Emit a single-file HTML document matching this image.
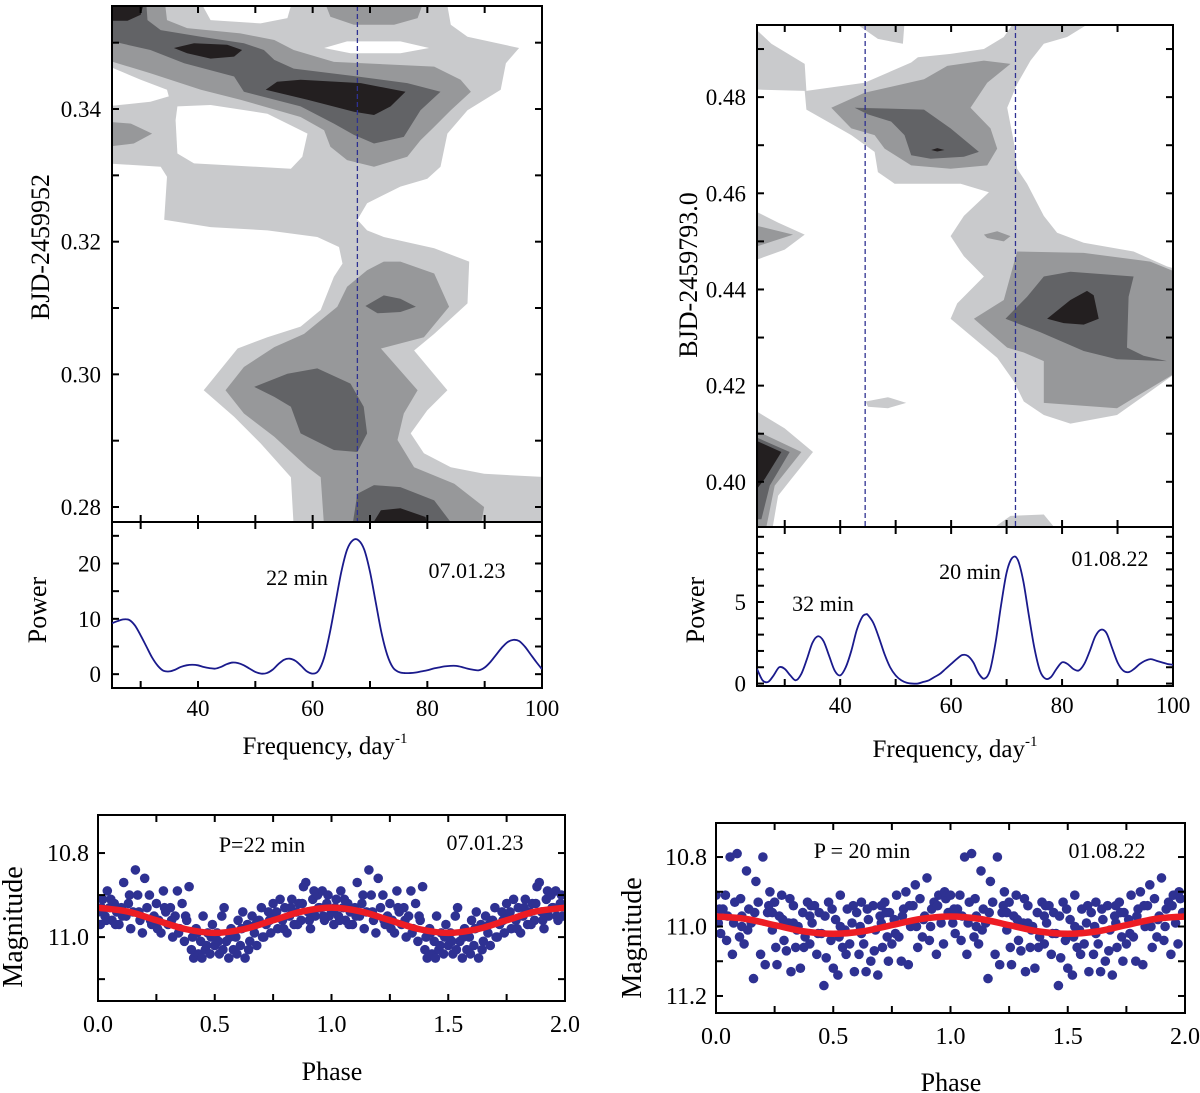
<!DOCTYPE html>
<html><head><meta charset="utf-8"><title>Periodograms and phase curves</title>
<style>
html,body{margin:0;padding:0;background:#fff;}
svg{display:block;font-family:"Liberation Serif","DejaVu Serif",serif;}
</style></head>
<body>
<svg id="fig" xmlns="http://www.w3.org/2000/svg" width="1200" height="1093" viewBox="0 0 1200 1093"></svg>
<script>
// ---------- DATA ----------
const specFreqA = [25,26,27,28,29,30,31,32,33,34,35,36,37,38,39,40,41,42,43,44,45,46,47,48,49,50,51,52,53,54,55,56,57,58,59,60,61,62,63,64,65,66,67,68,69,70,71,72,73,74,75,76,77,78,79,80,81,82,83,84,85,86,87,88,89,90,91,92,93,94,95,96,97,98,99,100];
const specPowA = [9.2,9.6,9.9,9.8,8.8,7,5,3,1.5,0.6,0.5,0.8,1.3,1.6,1.7,1.6,1.3,1.1,1.0,1.3,1.8,2.1,2.0,1.6,1.0,0.4,0.1,0.2,0.8,1.8,2.6,2.8,2.4,1.5,0.5,0.1,0.6,3,7.5,13,18.5,22.5,24.2,24.2,22.5,18.5,13,7.5,3.5,1.2,0.4,0.2,0.2,0.3,0.5,0.7,1.0,1.2,1.4,1.5,1.5,1.3,1.0,0.8,0.7,1.2,2.2,3.5,4.8,5.8,6.2,6.0,5.0,3.6,2.2,0.9];
const specFreqB = [25,26,27,28,29,30,31,32,33,34,35,36,37,38,39,40,41,42,43,44,44.7,45,46,47,48,49,50,51,52,53,54,55,56,57,58,59,60,61,62,63,64,65,66,67,68,69,70,71,72,73,74,75,76,77,78,79,80,81,82,83,84,85,86,87,88,89,90,91,92,93,94,95,96,97,98,99,100];
const specPowB = [0.9,0.2,0.1,0.5,1.0,0.9,0.5,0.2,0.6,1.5,2.5,2.9,2.6,1.7,0.8,0.5,1.0,2.0,3.3,4.1,4.25,4.2,3.7,2.8,1.8,1.0,0.5,0.2,0.05,0,0,0.1,0.2,0.4,0.6,0.9,1.2,1.5,1.75,1.7,1.3,0.6,0.3,0.8,2.5,4.8,6.8,7.7,7.6,6.3,4.2,2.2,0.8,0.3,0.4,0.9,1.3,1.2,0.9,0.8,1.2,2.0,2.9,3.3,3.1,2.2,1.3,0.8,0.7,0.9,1.2,1.4,1.5,1.4,1.3,1.2,1.15];
const markFreqA = [67.8];
const markFreqB = [44.5, 71.6];

const cA_L1 = [[[24,0.357],[83.2,0.357],[84.1,0.3527],[87.0,0.3509],[96.0,0.3492],[93.7,0.3469],[92.8,0.3429],[87.0,0.3398],[83.5,0.3363],[82.3,0.3313],[80.0,0.3295],[75.3,0.3283],[69.5,0.3258],[67.8,0.3233],[69.5,0.3217],[72.4,0.3207],[81.2,0.3190],[87.3,0.3170],[87.0,0.3107],[81.2,0.3061],[77.7,0.3036],[83.5,0.2976],[80.0,0.2946],[77.1,0.2911],[79.4,0.2881],[84.1,0.2860],[89.9,0.2850],[101,0.2845],[101,0.277],[56.7,0.277],[56.2,0.2845],[50.9,0.2896],[46.3,0.2936],[41.0,0.2976],[46.9,0.3039],[52.1,0.3056],[57.9,0.3072],[61.4,0.3097],[63.7,0.3147],[65.2,0.3167],[64.6,0.3192],[60.8,0.3207],[52.1,0.3217],[42.2,0.3222],[34.1,0.3233],[34.6,0.3298],[33.5,0.3313],[24,0.3318]]];
const cA_holes = [
 [[24,0.3466],[30,0.3444],[34.6,0.3429],[34.9,0.3419],[31.7,0.3411],[24,0.3404]],
 [[36.4,0.3404],[42.2,0.3406],[52.1,0.3393],[59.1,0.3363],[58.2,0.3328],[56.2,0.3310],[39.3,0.3318],[36.4,0.3333],[36.1,0.3383]],
 [[39.9,0.357],[56.7,0.357],[55.6,0.3537],[50.9,0.3529],[42.2,0.3534]],
 [[62.0,0.3492],[66.0,0.3502],[75.3,0.3502],[80.3,0.3492],[75.3,0.3484],[66.6,0.3484]]];
const cA_L2 = [
 [[24,0.357],[34.1,0.357],[34.6,0.3534],[38.1,0.3522],[47.4,0.3514],[53.3,0.3504],[56.7,0.3489],[63.7,0.3471],[81.2,0.3464],[85.8,0.3444],[87.6,0.3426],[84.1,0.3398],[81.2,0.3373],[78.8,0.3353],[76.5,0.3328],[70.7,0.3313],[66.0,0.3323],[63.1,0.3343],[62.0,0.3368],[57.9,0.3388],[47.4,0.3414],[40.5,0.3429],[31.7,0.3454],[24,0.3474]],
 [[61.7,0.357],[79.7,0.357],[78.3,0.3537],[74.2,0.3527],[67.2,0.3527],[63.1,0.3539]],
 [[24,0.3381],[28.3,0.3378],[32.0,0.3363],[28.8,0.3348],[24,0.3343]],
 [[72.4,0.3170],[69.5,0.3157],[66.0,0.3132],[64.3,0.3102],[58.5,0.3061],[53.3,0.3041],[48.0,0.3011],[44.8,0.2976],[48.0,0.2941],[53.3,0.2906],[59.1,0.2860],[61.4,0.2845],[62.0,0.277],[89.3,0.277],[89.9,0.2800],[84.7,0.2835],[77.7,0.2860],[74.8,0.2901],[75.9,0.2941],[78.3,0.2976],[71.9,0.3039],[79.4,0.3056],[83.8,0.3102],[81.2,0.3152],[75.3,0.3170]]];
const cA_L3 = [
 [[24,0.357],[30.9,0.357],[31.2,0.3534],[33.5,0.3519],[40.5,0.3509],[48.0,0.3499],[51.5,0.3489],[53.3,0.3474],[56.7,0.3461],[67.8,0.3449],[76.5,0.3439],[82.3,0.3426],[78.8,0.3398],[75.9,0.3358],[70.7,0.3348],[67.2,0.3361],[63.7,0.3378],[57.9,0.3404],[48.0,0.3426],[46.3,0.3449],[37.6,0.3469],[31.7,0.3489],[24,0.3504]],
 [[49.8,0.2981],[55.6,0.3001],[60.8,0.3009],[66.6,0.2986],[68.9,0.2951],[69.5,0.2911],[67.8,0.2883],[63.7,0.2886],[57.9,0.2911],[56.2,0.2951],[53.3,0.2966]],
 [[69.2,0.3103],[72.4,0.3119],[75.3,0.3114],[78.0,0.3102],[75.3,0.3094],[71.3,0.3092]],
 [[67.8,0.2820],[70.7,0.2833],[75.3,0.2830],[81.2,0.2810],[84.7,0.277],[66.9,0.277]]];
const cA_L4 = [
 [[24,0.357],[30.9,0.357],[30,0.3542],[27.7,0.3533],[24,0.3533]],
 [[35.8,0.3492],[39.3,0.3499],[45.1,0.3497],[47.7,0.3489],[46.3,0.3479],[42.2,0.3476],[38.1,0.3484]],
 [[51.8,0.3429],[53.8,0.3441],[57.9,0.3444],[68.4,0.3439],[76.2,0.3426],[73.6,0.3404],[70.7,0.3391],[67.2,0.3396],[59.1,0.3414]],
 [[70.1,0.277],[71.9,0.2795],[75.3,0.2798],[79.7,0.2785],[80.0,0.277]]];

const cB_L1 = [
 [[24,0.4950],[27.6,0.4911],[33.6,0.4869],[33.9,0.4813],[44.4,0.4830],[52.8,0.4872],[54.0,0.4883],[59.9,0.4890],[65.9,0.4900],[69.5,0.4925],[71.3,0.4955],[85.1,0.4955],[80.9,0.4925],[76.7,0.4911],[74.3,0.4876],[71.9,0.4827],[70.1,0.4778],[71.3,0.4707],[71.9,0.4651],[73.7,0.4620],[76.7,0.4553],[79.1,0.4518],[83.9,0.4497],[92.9,0.4479],[98.9,0.4448],[101,0.4441],[101,0.4230],[95.9,0.4188],[89.9,0.4139],[81.5,0.4121],[76.7,0.4139],[73.1,0.4167],[71.3,0.4209],[68.3,0.4258],[59.9,0.4339],[61.1,0.4371],[65.9,0.4427],[62.3,0.4469],[59.9,0.4511],[62.3,0.4553],[66.8,0.4602],[61.7,0.4620],[49.8,0.4620],[46.8,0.4644],[46.2,0.4686],[42.0,0.4721],[33.9,0.4774],[33.6,0.4813],[24,0.4816]],
 [[42.6,0.4955],[51.6,0.4955],[51.3,0.4911],[46.8,0.4921]],
 [[24,0.4567],[28.8,0.4539],[33.6,0.4514],[30,0.4483],[24,0.4458]],
 [[24,0.4153],[30,0.4111],[35.1,0.4062],[31.2,0.4006],[28.8,0.3971],[27.6,0.389],[24,0.389]],
 [[44.6,0.4167],[48.6,0.4176],[51.9,0.4164],[48.6,0.4153],[45.0,0.4156]],
 [[65.9,0.389],[70.7,0.3929],[76.7,0.3932],[79.7,0.389]]];
const cB_L2 = [
 [[38.4,0.4778],[44.4,0.4809],[55.1,0.4837],[59.3,0.4865],[65.9,0.4876],[70.7,0.4869],[66.5,0.4830],[63.5,0.4778],[67.1,0.4735],[68.3,0.4693],[66.5,0.4658],[59.9,0.4651],[52.8,0.4658],[48.0,0.4693],[46.2,0.4721],[42.0,0.4735]],
 [[64.1,0.4339],[69.5,0.4378],[71.9,0.4479],[83.9,0.4476],[95.9,0.4458],[101,0.4434],[101,0.4230],[92.9,0.4174],[89.9,0.4153],[76.7,0.4164],[76.7,0.4251],[73.1,0.4269],[70.1,0.4279]],
 [[65.9,0.4514],[68.3,0.4521],[70.7,0.4511],[69.5,0.4500],[66.5,0.4507]],
 [[24,0.4535],[31.5,0.4514],[24,0.4486]],
 [[24,0.4111],[33,0.4062],[28.2,0.3992],[26.4,0.389],[24,0.389]]];
const cB_L3 = [
 [[42.6,0.4778],[55.1,0.4774],[59.9,0.4735],[65.0,0.4686],[62.3,0.4676],[56.3,0.4672],[52.8,0.4679],[51.6,0.4721],[49.2,0.4749],[45.0,0.4764]],
 [[69.8,0.4339],[73.7,0.4385],[76.7,0.4427],[81.5,0.4437],[92.9,0.4427],[92.0,0.4385],[91.7,0.4279],[94.7,0.4262],[98.9,0.4251],[89.9,0.4255],[83.9,0.4272],[76.1,0.4311]],
 [[24,0.4097],[30.9,0.4062],[27.3,0.3992],[25.8,0.3922],[24,0.3922]]];
const cB_L4 = [
 [[77.3,0.4339],[81.5,0.4378],[84.5,0.4397],[85.7,0.4388],[86.6,0.4339],[83.9,0.4327],[80.3,0.4330]],
 [[56.4,0.4690],[57.5,0.4694],[58.8,0.4690],[57.5,0.4687]],
 [[24,0.4090],[29.4,0.4062],[26.4,0.4006],[24,0.3971]]];

const phaseA = [0.00,0.01,0.02,0.03,0.04,0.05,0.06,0.07,0.08,0.09,0.10,0.11,0.12,0.13,0.14,0.15,0.16,0.17,0.18,0.19,0.20,0.21,0.22,0.23,0.24,0.25,0.26,0.27,0.28,0.29,0.30,0.31,0.32,0.33,0.34,0.35,0.36,0.37,0.38,0.39,0.40,0.41,0.42,0.43,0.44,0.45,0.46,0.47,0.48,0.49,0.50,0.51,0.52,0.53,0.54,0.55,0.56,0.57,0.58,0.59,0.60,0.61,0.62,0.63,0.64,0.65,0.66,0.67,0.68,0.69,0.70,0.71,0.72,0.73,0.74,0.75,0.76,0.77,0.78,0.79,0.80,0.81,0.82,0.83,0.84,0.85,0.86,0.87,0.88,0.89,0.90,0.91,0.92,0.93,0.94,0.95,0.96,0.97,0.98,0.99,
 0.015,0.035,0.055,0.075,0.105,0.135,0.175,0.225,0.255,0.285,0.315,0.345,0.375,0.405,0.425,0.445,0.465,0.485,0.515,0.535,0.565,0.595,0.615,0.645,0.675,0.705,0.735,0.765,0.795,0.825,0.855,0.875,0.905,0.925,0.945,0.965,0.985];
const magA = [10.94,10.97,10.91,10.95,10.89,10.93,10.96,10.92,10.94,10.97,10.93,10.87,10.95,10.92,10.98,10.94,10.84,10.90,10.96,10.99,10.86,10.93,10.90,10.97,10.95,10.92,10.96,10.99,10.89,10.94,10.97,10.93,11.00,10.95,10.89,10.98,10.92,11.01,10.96,10.88,11.03,11.05,10.98,11.04,11.01,10.95,11.03,10.99,11.04,10.97,11.02,10.99,11.04,10.95,10.93,11.01,11.05,10.98,11.03,11.00,10.96,11.02,10.94,11.05,10.97,11.01,10.95,10.99,11.02,10.96,10.93,11.00,10.97,10.94,10.99,10.92,10.95,10.98,10.91,10.96,10.93,10.99,10.95,10.91,10.97,10.94,10.92,10.96,10.88,10.87,10.94,10.98,10.91,10.95,10.90,10.93,10.89,10.96,10.92,10.95,
 10.93,10.96,10.91,10.97,10.95,10.90,10.94,10.96,10.98,10.93,10.96,10.99,10.95,11.00,10.99,11.05,11.02,11.00,11.01,11.03,11.00,11.04,10.98,11.03,10.97,11.00,10.96,10.94,10.98,10.93,10.97,10.92,10.96,10.89,10.93,10.95,10.90];
const phaseB = [0.00,0.01,0.02,0.03,0.04,0.05,0.06,0.07,0.08,0.09,0.10,0.11,0.12,0.13,0.14,0.15,0.16,0.17,0.18,0.19,0.20,0.21,0.22,0.23,0.24,0.25,0.26,0.27,0.28,0.29,0.30,0.31,0.32,0.33,0.34,0.35,0.36,0.37,0.38,0.39,0.40,0.41,0.42,0.43,0.44,0.45,0.46,0.47,0.48,0.49,0.50,0.51,0.52,0.53,0.54,0.55,0.56,0.57,0.58,0.59,0.60,0.61,0.62,0.63,0.64,0.65,0.66,0.67,0.68,0.69,0.70,0.71,0.72,0.73,0.74,0.75,0.76,0.77,0.78,0.79,0.80,0.81,0.82,0.83,0.84,0.85,0.86,0.87,0.88,0.89,0.90,0.91,0.92,0.93,0.94,0.95,0.96,0.97,0.98,0.99,
 0.015,0.045,0.075,0.105,0.135,0.165,0.225,0.255,0.285,0.315,0.345,0.375,0.405,0.435,0.465,0.495,0.525,0.555,0.585,0.615,0.645,0.675,0.705,0.735,0.765,0.795,0.825,0.855,0.885,0.915,0.945,0.975,0.705,0.725,0.62,0.53,0.40,0.33,0.24,0.11];
const magB = [10.91,10.99,11.02,10.95,10.91,10.97,10.80,11.08,10.93,10.79,11.03,10.97,11.05,10.84,10.95,10.99,11.15,10.87,10.93,11.08,10.80,11.11,10.96,10.90,11.01,10.93,11.11,10.97,10.91,11.04,11.07,10.99,11.13,10.94,11.06,11.00,11.12,10.96,11.03,10.93,11.05,10.99,10.94,11.08,10.96,11.02,11.17,11.09,10.93,11.04,11.12,10.98,11.14,10.91,11.06,11.01,10.95,11.05,10.99,11.13,10.96,11.08,10.93,11.05,11.13,10.98,11.10,10.94,11.01,11.14,10.97,11.06,10.93,11.03,10.96,11.05,10.98,10.91,11.03,11.10,10.95,10.90,11.11,11.00,10.94,10.88,11.06,10.92,11.03,10.97,10.86,11.04,10.95,10.93,11.08,10.91,10.99,11.05,10.92,10.96,
 10.95,11.04,10.99,10.92,11.01,10.96,10.94,11.06,10.98,10.92,11.01,11.06,10.94,11.02,10.97,10.95,11.03,11.08,10.94,11.00,10.95,11.07,10.94,11.10,11.02,10.97,10.94,11.00,10.98,11.00,10.94,10.90,10.99,10.96,11.02,11.00,10.97,10.99,10.96,11.00];
const fitPhase = [0,0.125,0.25,0.375,0.5,0.625,0.75,0.875,1,1.125,1.25,1.375,1.5,1.625,1.75,1.875,2];
const fitMagA = [10.93,10.939,10.96,10.981,10.99,10.981,10.96,10.939,10.93,10.939,10.96,10.981,10.99,10.981,10.96,10.939,10.93];
const fitMagB = [10.971,10.978,10.996,11.014,11.021,11.014,10.996,10.978,10.971,10.978,10.996,11.014,11.021,11.014,10.996,10.978,10.971];

const freqTickLabels = [40,60,80,100];
const bjdTicksA = [0.28,0.30,0.32,0.34];
const bjdTicksB = [0.40,0.42,0.44,0.46,0.48];
const powTicksA = [0,10,20];
const powTicksB = [0,5];
const phaseTicks = [0.0,0.5,1.0,1.5,2.0];
const magTicksA = [10.8,11.0];
const magTicksB = [10.8,11.0,11.2];

// ---------- HELPERS ----------
const NS = 'http://www.w3.org/2000/svg';
const svg = document.getElementById('fig');
function mk(tag, attrs, parent){
  const e = document.createElementNS(NS, tag);
  for (const k in attrs) e.setAttribute(k, attrs[k]);
  (parent || svg).appendChild(e);
  return e;
}
function lin(d0,d1,r0,r1){ return v => r0 + (v-d0)/(d1-d0)*(r1-r0); }
function smoothPath(pts){
  let d = 'M' + pts[0][0].toFixed(2) + ',' + pts[0][1].toFixed(2);
  for (let i=0;i<pts.length-1;i++){
    const p0 = pts[Math.max(0,i-1)], p1 = pts[i], p2 = pts[i+1], p3 = pts[Math.min(pts.length-1,i+2)];
    const c1x = p1[0]+(p2[0]-p0[0])/6, c1y = p1[1]+(p2[1]-p0[1])/6;
    const c2x = p2[0]-(p3[0]-p1[0])/6, c2y = p2[1]-(p3[1]-p1[1])/6;
    d += ' C'+c1x.toFixed(2)+','+c1y.toFixed(2)+' '+c2x.toFixed(2)+','+c2y.toFixed(2)+' '+p2[0].toFixed(2)+','+p2[1].toFixed(2);
  }
  return d;
}
function text(str, x, y, size, anchor, parent, rot){
  const t = mk('text', {x:x, y:y, 'font-size':size, 'text-anchor':anchor||'middle', fill:'#000'}, parent);
  if (rot) t.setAttribute('transform', 'rotate(-90 '+x+' '+y+')');
  t.textContent = str;
  return t;
}
function clip(id, x, y, w, h){
  const cp = mk('clipPath', {id:id});
  mk('rect', {x:x, y:y, width:w, height:h}, cp);
}
function drawTicks(g, x0, x1, y0, y1, xVals, xf, yVals, yf, len, sides){
  xVals.forEach(v => {
    const x = xf(v);
    if (sides.bottom){ const t = mk('line',{x1:x,y1:y1,x2:x,y2:y1-len,stroke:'#000','stroke-width':2},g);   }
    if (sides.top){ const t = mk('line',{x1:x,y1:y0,x2:x,y2:y0+len,stroke:'#000','stroke-width':2},g);   }
  });
  yVals.forEach(v => {
    const y = yf(v);
    const a = mk('line',{x1:x0,y1:y,x2:x0+len,y2:y,stroke:'#000','stroke-width':2},g);
    
    
    const b = mk('line',{x1:x1,y1:y,x2:x1-len,y2:y,stroke:'#000','stroke-width':2},g);
    
    
  });
}
function range(a,b,s){ const r=[]; for(let v=a; v<=b+1e-9; v+=s) r.push(+v.toFixed(4)); return r; }
const colors = ['#c9cacc','#97989a','#626366','#231f20'];

function drawContours(name, layers, holes, fx, fy, clipId){
  const g = mk('g', {'clip-path':'url(#'+clipId+')'});
  
  
  const order = [[layers[0],colors[0],'contour-level-1'],[holes,'#ffffff','contour-gap'],[layers[1],colors[1],'contour-level-2'],[layers[2],colors[2],'contour-level-3'],[layers[3],colors[3],'contour-level-4']];
  order.forEach(([polys,col,nm]) => {
    polys.forEach(poly => {
      const d = 'M' + poly.map(p => fx(p[0]).toFixed(1)+','+fy(p[1]).toFixed(1)).join(' L') + 'Z';
      const p = mk('path', {d:d, fill:col, stroke:'none'}, g);
      
      
    });
  });
  return g;
}

// ---------- PANEL A ----------
const AX0=112, AX1=542, AY0=6, AY1=522, AP1=688;
const fxA = lin(25,100,AX0,AX1);
const tyA = lin(0.35553,0.27774,AY0,AY1);
const pyA = lin(27.5,-2.5,AY1,AP1);
clip('clipA', AX0, AY0, AX1-AX0, AY1-AY0);
clip('clipAP', AX0, AY1, AX1-AX0, AP1-AY1);
drawContours('contour-map-07-01-23', [cA_L1,cA_L2,cA_L3,cA_L4], cA_holes, fxA, tyA, 'clipA');
markFreqA.forEach(f => {
  const l = mk('line',{x1:fxA(f),y1:AY0,x2:fxA(f),y2:AY1,stroke:'#2e3192','stroke-width':1.3,'stroke-dasharray':'5,3'});
  
  
});
{
  const gA = mk('g',{});
  
  
  const r1 = mk('rect',{x:AX0,y:AY0,width:AX1-AX0,height:AY1-AY0,fill:'none',stroke:'#000','stroke-width':2},gA);
  
  
  const r2 = mk('rect',{x:AX0,y:AY1,width:AX1-AX0,height:AP1-AY1,fill:'none',stroke:'#000','stroke-width':2},gA);
  
  
  const fTicks = range(30,100,10);
  drawTicks(gA, AX0, AX1, AY0, AY1, fTicks, fxA, range(0.28,0.35,0.01), tyA, 7, {top:true,bottom:true});
  drawTicks(gA, AX0, AX1, AY1, AP1, fTicks, fxA, range(0,25,5), pyA, 7, {top:true,bottom:true});
  bjdTicksA.forEach(v => { const t = text(v.toFixed(2), AX0-11, tyA(v)+8, 23, 'end', gA);   });
  powTicksA.forEach(v => { const t = text(String(v), AX0-11, pyA(v)+8, 23, 'end', gA);   });
  freqTickLabels.forEach(v => { const t = text(String(v), fxA(v), AP1+28, 23, 'middle', gA);   });
  const yt = text('BJD-2459952', 49, 247, 26, 'middle', gA, true);
  
  
  const pt = text('Power', 46, 610, 26, 'middle', gA, true);
  
  
  const xt = mk('text',{x:325,y:754,'font-size':25,'text-anchor':'middle'},gA);
  
  
  xt.innerHTML = 'Frequency, day<tspan dy="-11" font-size="15">-1</tspan>';
  const a1 = text('22 min', 297, 585, 22, 'middle', gA);
  
  
  const a2 = text('07.01.23', 467, 578, 22, 'middle', gA);
  
  
}
{
  const pts = specFreqA.map((f,i) => [fxA(f), pyA(specPowA[i])]);
  const p = mk('path',{d:smoothPath(pts),fill:'none',stroke:'#1a1a8c','stroke-width':1.8,'clip-path':'url(#clipAP)'});
  
  
}

// ---------- PANEL B ----------
const BX0=757, BX1=1173, BY0=25, BY1=527, BP1=686;
const fxB = lin(25,100,BX0,BX1);
const tyB = lin(0.4950,0.3906,BY0,BY1);
const pyB = lin(9.6,-0.15,BY1,BP1);
clip('clipB', BX0, BY0, BX1-BX0, BY1-BY0);
clip('clipBP', BX0, BY1, BX1-BX0, BP1-BY1);
drawContours('contour-map-01-08-22', [cB_L1,cB_L2,cB_L3,cB_L4], [], fxB, tyB, 'clipB');
markFreqB.forEach(f => {
  const l = mk('line',{x1:fxB(f),y1:BY0,x2:fxB(f),y2:BY1,stroke:'#2e3192','stroke-width':1.3,'stroke-dasharray':'5,3'});
  
  
});
{
  const gB = mk('g',{});
  
  
  const r1 = mk('rect',{x:BX0,y:BY0,width:BX1-BX0,height:BY1-BY0,fill:'none',stroke:'#000','stroke-width':2},gB);
  
  
  const r2 = mk('rect',{x:BX0,y:BY1,width:BX1-BX0,height:BP1-BY1,fill:'none',stroke:'#000','stroke-width':2},gB);
  
  
  const fTicks = range(30,100,10);
  drawTicks(gB, BX0, BX1, BY0, BY1, fTicks, fxB, range(0.40,0.49,0.01), tyB, 7, {top:true,bottom:true});
  drawTicks(gB, BX0, BX1, BY1, BP1, fTicks, fxB, range(0,9,1), pyB, 7, {top:true,bottom:true});
  bjdTicksB.forEach(v => { const t = text(v.toFixed(2), BX0-11, tyB(v)+8, 23, 'end', gB);   });
  powTicksB.forEach(v => { const t = text(String(v), BX0-11, pyB(v)+8, 23, 'end', gB);   });
  freqTickLabels.forEach(v => { const t = text(String(v), fxB(v), BP1+27, 23, 'middle', gB);   });
  const yt = text('BJD-2459793.0', 697, 275, 26, 'middle', gB, true);
  
  
  const pt = text('Power', 704, 610, 26, 'middle', gB, true);
  
  
  const xt = mk('text',{x:955,y:757,'font-size':25,'text-anchor':'middle'},gB);
  
  
  xt.innerHTML = 'Frequency, day<tspan dy="-11" font-size="15">-1</tspan>';
  const a1 = text('32 min', 823, 611, 22, 'middle', gB);
  
  
  const a2 = text('20 min', 970, 579, 22, 'middle', gB);
  
  
  const a3 = text('01.08.22', 1110, 566, 22, 'middle', gB);
  
  
}
{
  const pts = specFreqB.map((f,i) => [fxB(f), pyB(specPowB[i])]);
  const p = mk('path',{d:smoothPath(pts),fill:'none',stroke:'#1a1a8c','stroke-width':1.8,'clip-path':'url(#clipBP)'});
  
  
}

// ---------- LIGHT CURVES ----------
function lightCurve(id, X0, X1, Y0, Y1, m0, m1, phases, mags, fitMag, magTicks, minorMags, labels){
  const fx = lin(0,2,X0,X1), fy = lin(m0,m1,Y0,Y1);
  clip('clip'+id, X0, Y0, X1-X0, Y1-Y0);
  const g = mk('g',{'clip-path':'url(#clip'+id+')'});
  
  
  [0,1].forEach(cyc => {
    phases.forEach((p,i) => {
      const c = mk('circle',{cx:fx(p+cyc).toFixed(1),cy:fy(mags[i]).toFixed(1),r:4.8,fill:'#2e3192'},g);
      
      
    });
  });
  const fit = mk('path',{d:smoothPath(fitPhase.map((p,i)=>[fx(p),fy(fitMag[i])])),fill:'none',stroke:'#ed1c24','stroke-width':6.5},g);
  
  
  const ga = mk('g',{});
  
  
  const fr = mk('rect',{x:X0,y:Y0,width:X1-X0,height:Y1-Y0,fill:'none',stroke:'#000','stroke-width':2},ga);
  
  
  drawTicks(ga, X0, X1, Y0, Y1, range(0,2,0.25), fx, minorMags, fy, 7, {top:true,bottom:true});
  phaseTicks.forEach(v => { const t = text(v.toFixed(1), fx(v), Y1+31, 24, 'middle', ga);   });
  magTicks.forEach(v => { const t = text(v.toFixed(1), X0-9, fy(v)+8, 24, 'end', ga);   });
  const xt = text('Phase', labels.px, labels.py, 26, 'middle', ga);
  
  
  const yt = text('Magnitude', labels.mx, labels.my, 28, 'middle', ga, true);
  
  
  const pl = text(labels.period, labels.ppx, labels.ppy, 22, 'middle', ga);
  
  
  const dl = text(labels.date, labels.dx, labels.dy, 22, 'middle', ga);
  
  
}
lightCurve('C', 98, 565, 815, 1001, 10.7095, 11.152, phaseA, magA, fitMagA, magTicksA, [10.8,10.9,11.0,11.1],
  {px:332, py:1080, mx:22, my:927, period:'P=22 min', ppx:262, ppy:852, date:'07.01.23', dx:485, dy:850});
lightCurve('D', 716, 1185, 823, 1013, 10.702, 11.249, phaseB, magB, fitMagB, magTicksB, [10.8,10.9,11.0,11.1,11.2],
  {px:951, py:1091, mx:641, my:938, period:'P = 20 min', ppx:862, ppy:858, date:'01.08.22', dx:1107, dy:858});
</script>
</body></html>
